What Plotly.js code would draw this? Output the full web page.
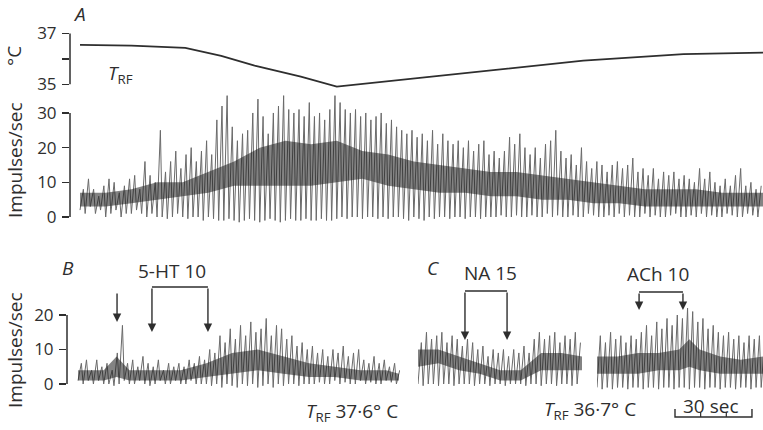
<!DOCTYPE html>
<html>
<head>
<meta charset="utf-8">
<script src="https://cdn.plot.ly/plotly-3.0.1.min.js"></script>
<style>html,body{margin:0;padding:0;background:#fff;}#chart{width:763px;height:430px;}</style>
</head>
<body>
<div id="chart"></div>
<script>
// ---------- data ----------
// Panel A: temperature T_RF (°C) against time (s)
const tempT = [0, 20, 41, 55, 68, 86, 100, 131, 170, 196, 235, 266];
const tempC = [36.55, 36.52, 36.43, 36.12, 35.74, 35.3, 34.91, 35.24, 35.63, 35.93, 36.19, 36.25];

// Panel A: ratemeter stripes every 2 s (peak and trough, impulses/sec)
const stepSec = 2;
const peaksA = [8,11,8,6,9,11,10,7,9,11,
  12,8,16,12,10,25,13,16,19,14,
  18,20,16,19,22,18,28,32,35,26,
  22,24,25,30,34,29,24,30,32,35,
  31,30,31,29,33,29,30,28,31,35,
  33,31,30,31,29,30,28,29,30,27,
  28,26,25,24,25,23,24,22,25,21,
  24,22,21,22,20,22,19,21,22,18,
  19,17,19,23,21,24,20,18,20,17,
  21,22,25,19,17,18,15,20,16,14,
  16,15,13,15,16,14,15,17,13,14,
  12,14,11,13,12,13,11,12,11,10,
  14,11,13,10,9,11,9,12,14,9,
  10,8,9];
const lowsA = [2,1,3,1,2,0,1,2,0,1,
  1,2,1,0,1,0,0,-0.5,0,1,
  0,-0.5,0,0,-1,0,-0.5,-1,-1,-0.5,
  -1,-1.5,-1,-0.5,-1,-1.5,-1,-0.5,-1,-1.5,
  -1,-0.5,-1,-1,-0.5,-1,-1,-0.5,-1,-1,
  -0.5,0,-0.5,0,0,-0.5,0,0,-0.5,0,
  -0.5,0,0,-0.5,-1,0,-0.5,-1,0,-0.5,
  0,0,-0.5,0,0,-0.5,0,0,-0.5,0,
  0,0,0.5,0,0,0.5,0,0,0.5,0,
  0,1,0,0.5,0,0,0.5,0,0,1,
  0.5,0,0,0.5,0,1,0,0.5,0,0,
  1,0,0.5,0,0,0.5,1,0,0,0.5,
  0,1,0,0.5,0,0,1,0.5,0,0,
  1,0.5,0];
// dense (dark) band of the record
const bandAT  = [0,10,20,30,40,50,60,70,80,90,100,110,120,130,140,150,160,170,180,190,200,210,220,230,240,250,260,266];
const bandALo = [3,3,4,5,6,7,9,9,9,9,10,11,9,8,7,7,6,6,5,5,4,4,3,3,3,3,3,3];
const bandAHi = [7,7,8,10,10,13,16,20,22,21,22,19,18,16,15,14,13,13,12,11,10,9,8,8,8,7,7,7];

// Panel B (5-HT)
const peaksB = [6,7,4,7,5,6,4,9,17,6,
  7,5,8,6,5,7,4,6,5,6,
  5,7,6,8,7,10,9,14,12,16,
  13,17,14,18,15,16,19,14,17,16,
  13,14,11,12,10,11,9,10,8,10,
  9,11,8,9,10,7,6,8,6,7,
  5,6,4];
const lowsB = [1,0,1,0,1,0,0,-0.5,0,1,
  0,0,1,0,-0.5,0,1,0,0,1,
  0,0,1,0,0,0,-0.5,0,-1,0,
  -0.5,-1,0,-0.5,0,-1,-0.5,0,-1,0,
  -0.5,0,0,-0.5,0,0,0,0.5,0,0,
  1,0,0.5,0,0,1,0,0.5,0,0,
  1,0.5,0];
const bandBT  = [0,10,15,20,30,40,50,60,70,80,90,100,110,120,125];
const bandBLo = [1,1,2,1,1,1,2,3,4,3,2,2,1,1,1];
const bandBHi = [4,4,8,4,4,4,6,9,10,8,6,5,4,4,3];

// Panel C, first record (NA)
const peaksC1 = [12,15,13,14,15,12,14,13,11,13,12,10,11,8,10,9,10,8,10,9,11,9,13,15,13,14,15,12,14,13,15,12];
const lowsC1  = [0,-0.5,0,0,-0.5,0,0,-0.5,0,0,0,-0.5,0,0,-0.5,0,0,-0.5,0,0,0,-0.5,0,0,-0.5,0,0,-0.5,0,0,-0.5,0];
const bandC1T  = [0,8,16,24,32,40,48,56,63.9];
const bandC1Lo = [5,6,4,3,1,1,4,4,4];
const bandC1Hi = [10,10,8,6,4,4,9,9,8];

// Panel C, second record (ACh)
const peaksC2 = [14,12,15,13,14,12,14,13,15,17,14,18,16,19,17,20,19,22,21,18,19,16,17,15,14,15,13,14,12,14,13,14,12];
const lowsC2  = [-1,-1.5,-1,-1.5,-1,-1,-1.5,-1,-1,-1.5,-1,-1,-1.5,-1,-1,-1.5,-1,-1,-1.5,-1,-1,-1.5,-1,-1,-1.5,-1,-1,-1.5,-1,-1,-1.5,-1,-1];
const bandC2T  = [0,8,16,24,32,36,40,48,56,64.7];
const bandC2Lo = [3,3,3,4,4,5,4,3,3,3];
const bandC2Hi = [8,8,9,9,10,13,10,8,7,8];

// drug application times (s) on each record
const spikeB = 15.2;
const htOn = 28.8, htOff = 50.6;
const naOn = 18.3, naOff = 34.7;
const achOn = 16.4, achOff = 33.5;
const scaleStart = 30.4, scaleLen = 30;

// axis ticks
const tempTicks = [35, 36, 37], tempTickText = ['35', '', '37'];
const impTicksA = [0, 10, 20, 30];
const impTicksB = [0, 10, 20];

// ---------- helpers ----------
const W = 763, H = 430;
const px = v => v / W;          // horizontal pixel -> paper
const py = v => 1 - v / H;      // vertical pixel -> paper
const INK = '#2e2e2e';
const FONT = 'Open Sans, Noto Sans, sans-serif';

function stripes(lows, peaks, xa, ya) {
  const x = [], y = [];
  for (let i = 0; i < peaks.length; i++) {
    x.push(i * stepSec, i * stepSec + 0.65 * stepSec);
    y.push(lows[i], peaks[i]);
  }
  return {type: 'scatter', mode: 'lines', x, y, xaxis: xa, yaxis: ya,
          line: {color: '#6a6a6a', width: 1}, hoverinfo: 'skip'};
}
function band(t, lo, hi, xa, ya) {
  return [
    {type: 'scatter', mode: 'lines', x: t, y: lo, xaxis: xa, yaxis: ya,
     line: {width: 0}, hoverinfo: 'skip'},
    {type: 'scatter', mode: 'lines', x: t, y: hi, xaxis: xa, yaxis: ya,
     line: {width: 0}, fill: 'tonexty',
     fillcolor: 'rgba(30,30,30,0.55)', hoverinfo: 'skip'}
  ];
}

const data = [
  {type: 'scatter', mode: 'lines', x: tempT, y: tempC, xaxis: 'x', yaxis: 'y',
   line: {color: INK, width: 1.8}, hoverinfo: 'skip'},
  stripes(lowsA, peaksA, 'x', 'y2'),
  ...band(bandAT, bandALo, bandAHi, 'x', 'y2'),
  stripes(lowsB, peaksB, 'x2', 'y3'),
  ...band(bandBT, bandBLo, bandBHi, 'x2', 'y3'),
  stripes(lowsC1, peaksC1, 'x3', 'y3'),
  ...band(bandC1T, bandC1Lo, bandC1Hi, 'x3', 'y3'),
  stripes(lowsC2, peaksC2, 'x4', 'y3'),
  ...band(bandC2T, bandC2Lo, bandC2Hi, 'x4', 'y3')
];

const hiddenX = {visible: false, showgrid: false, zeroline: false, fixedrange: true};
const yBase = {showgrid: false, zeroline: false, showline: false, ticks: 'outside',
  ticklen: 7, tickwidth: 1.4, tickcolor: INK, ticklabelstandoff: 2,
  tickfont: {family: FONT, size: 17, color: INK}};

const arrow = (xref, x, yTip, yTail) => ({
  xref, x, yref: 'paper', y: py(yTip), ax: 0, ay: -(yTip - yTail), axref: 'pixel', ayref: 'pixel',
  text: '', showarrow: true, arrowhead: 2, arrowsize: 1.2, arrowwidth: 1.4, arrowcolor: INK
});
const label = (text, x, y, opts = {}) => Object.assign({
  text, xref: 'paper', yref: 'paper', x: px(x), y: py(y), showarrow: false,
  xanchor: 'center', yanchor: 'middle', font: {family: FONT, size: 19, color: INK}
}, opts);

const layout = {
  width: W, height: H, margin: {l: 0, r: 0, t: 0, b: 0},
  paper_bgcolor: '#fff', plot_bgcolor: 'rgba(0,0,0,0)', showlegend: false,
  xaxis: Object.assign({}, hiddenX, {domain: [px(70), 1], range: [-3.9, 266], anchor: 'y2'}),
  yaxis: Object.assign({}, yBase, {domain: [py(95), py(20)], range: [34.58, 37.53],
    tickvals: tempTicks, ticktext: tempTickText, anchor: 'x'}),
  yaxis2: Object.assign({}, yBase, {domain: [py(228), py(88)], range: [-3.17, 37.2],
    tickvals: impTicksA, anchor: 'x'}),
  xaxis2: Object.assign({}, hiddenX, {domain: [px(67), px(400)], range: [-4.29, 125.4], anchor: 'y3'}),
  yaxis3: Object.assign({}, yBase, {domain: [py(400), py(290)], range: [-4.64, 27.25],
    tickvals: impTicksB, anchor: 'x2'}),
  xaxis3: Object.assign({}, hiddenX, {domain: [px(418), px(582)], range: [0, 63.9], anchor: 'y3'}),
  xaxis4: Object.assign({}, hiddenX, {domain: [px(597), 1], range: [0, 64.7], anchor: 'y3'}),
  shapes: [
    // axis brackets
    {type: 'line', xref: 'x domain', x0: 0, x1: 0, yref: 'y', y0: 35, y1: 37, line: {color: INK, width: 1.5}},
    {type: 'line', xref: 'x domain', x0: 0, x1: 0, yref: 'y2', y0: 0, y1: 30, line: {color: INK, width: 1.5}},
    {type: 'line', xref: 'x2 domain', x0: 0, x1: 0, yref: 'y3', y0: 0, y1: 20, line: {color: INK, width: 1.5}},
    // drug brackets
    {type: 'line', xref: 'x2', x0: htOn, x1: htOff, yref: 'paper', y0: py(287), y1: py(287), line: {color: INK, width: 1.4}},
    {type: 'line', xref: 'x3', x0: naOn, x1: naOff, yref: 'paper', y0: py(291), y1: py(291), line: {color: INK, width: 1.4}},
    {type: 'line', xref: 'x4', x0: achOn, x1: achOff, yref: 'paper', y0: py(292), y1: py(292), line: {color: INK, width: 1.4}},
    // 30 s scale bar
    {type: 'path', xref: 'x4', yref: 'paper',
     path: `M ${scaleStart},${py(409)} L ${scaleStart},${py(417)} L ${scaleStart + scaleLen},${py(417)} L ${scaleStart + scaleLen},${py(409)}`,
     line: {color: INK, width: 1.4}},
    {type: 'line', xref: 'x4', x0: scaleStart + 10, x1: scaleStart + 10, yref: 'paper', y0: py(417), y1: py(412), line: {color: INK, width: 1.2}},
    {type: 'line', xref: 'x4', x0: scaleStart + 20, x1: scaleStart + 20, yref: 'paper', y0: py(417), y1: py(412), line: {color: INK, width: 1.2}}
  ],
  annotations: [
    arrow('x2', spikeB, 322, 292),
    arrow('x2', htOn, 332, 287), arrow('x2', htOff, 332, 287),
    arrow('x3', naOn, 340, 291), arrow('x3', naOff, 340, 291),
    arrow('x4', achOn, 310, 292), arrow('x4', achOff, 310, 292),
    label('<i>A</i>', 79, 14),
    label('<i>B</i>', 68, 268),
    label('<i>C</i>', 433, 268),
    label('°C', 14, 56, {textangle: -90}),
    label('<i>T</i><sub>RF</sub>', 120, 74),
    label('Impulses/sec', 15, 160, {textangle: -90}),
    label('Impulses/sec', 15, 350, {textangle: -90}),
    label('5-HT 10', 172, 271),
    label('NA 15', 491, 273),
    label('ACh 10', 658, 274),
    label('<i>T</i><sub>RF</sub> 37·6° C', 352, 412),
    label('<i>T</i><sub>RF</sub> 36·7° C', 590, 410),
    label('30 sec', 711, 406)
  ]
};

Plotly.newPlot('chart', data, layout, {staticPlot: true, displayModeBar: false});
</script>
</body>
</html>
